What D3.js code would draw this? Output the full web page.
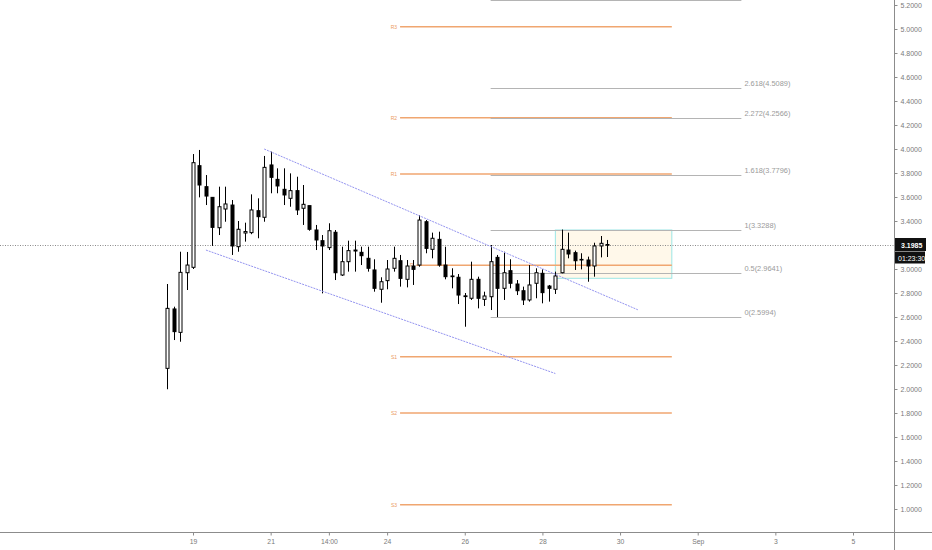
<!DOCTYPE html>
<html>
<head>
<meta charset="utf-8">
<script src="https://cdn.jsdelivr.net/npm/d3@7"></script>
<style>
  html, body { margin: 0; padding: 0; background: #fff; }
  svg { display: block; font-family: 'Liberation Sans', Arial, sans-serif; }
</style>
</head>
<body>
<div id="chart"></div>
<script>
// 4h bars
const opens = [
  2.172, 2.667, 2.472, 2.969, 3.014, 3.861, 3.686, 3.597, 3.344, 3.500,
  3.533, 3.186, 3.300, 3.303, 3.486, 3.431, 3.867, 3.747, 3.664, 3.589,
  3.653, 3.506, 3.528, 3.325, 3.236, 3.178, 3.306, 2.950, 3.061, 3.150,
  3.139, 3.089, 2.992, 2.831, 2.903, 3.006, 3.069, 2.914, 3.025, 3.033,
  3.394, 3.164, 3.247, 3.033, 2.936, 2.931, 2.776, 2.756, 2.914, 2.747,
  2.769, 3.097, 2.839, 2.986, 2.875, 2.819, 2.742, 2.881, 2.964, 2.858,
  2.831, 2.969, 3.158, 3.136, 3.075, 3.075, 3.025, 3.192, 3.204,
];
const highs = [
  2.875, 2.686, 3.144, 3.142, 3.958, 3.992, 3.783, 3.600, 3.686, 3.686,
  3.575, 3.400, 3.386, 3.622, 3.589, 3.942, 3.978, 3.839, 3.839, 3.797,
  3.769, 3.700, 3.528, 3.367, 3.283, 3.381, 3.325, 3.186, 3.236, 3.236,
  3.186, 3.186, 3.081, 2.931, 3.075, 3.186, 3.117, 3.075, 3.075, 3.450,
  3.408, 3.303, 3.311, 3.186, 3.006, 2.958, 2.800, 3.061, 2.936, 2.811,
  3.200, 3.117, 3.144, 3.081, 2.908, 2.853, 3.033, 3.006, 2.997, 2.867,
  2.978, 3.3288, 3.303, 3.153, 3.131, 3.103, 3.219, 3.275, 3.242,
];
const lows = [
  1.998, 2.408, 2.394, 2.825, 3.000, 3.597, 3.533, 3.192, 3.283, 3.394,
  3.117, 3.144, 3.228, 3.290, 3.256, 3.394, 3.631, 3.631, 3.533, 3.519,
  3.450, 3.367, 3.319, 3.158, 2.797, 3.158, 2.908, 2.942, 2.978, 2.978,
  3.033, 2.978, 2.811, 2.719, 2.831, 2.978, 2.853, 2.847, 2.867, 3.019,
  3.131, 3.089, 3.019, 2.914, 2.839, 2.708, 2.519, 2.742, 2.672, 2.692,
  2.658, 2.5994, 2.742, 2.839, 2.783, 2.700, 2.728, 2.756, 2.714, 2.728,
  2.792, 2.964, 3.089, 2.992, 2.997, 2.894, 2.936, 3.097, 3.100,
];
const closes = [
  2.672, 2.478, 2.972, 3.033, 3.886, 3.700, 3.608, 3.347, 3.519, 3.542,
  3.192, 3.331, 3.312, 3.492, 3.436, 3.847, 3.764, 3.692, 3.617, 3.653,
  3.492, 3.539, 3.331, 3.242, 3.192, 3.319, 2.969, 3.061, 3.153, 3.158,
  3.111, 3.006, 2.839, 2.894, 3.000, 3.089, 2.922, 3.025, 2.997, 3.408,
  3.172, 3.256, 3.033, 2.936, 2.942, 2.783, 2.770, 2.914, 2.756, 2.775,
  3.061, 2.839, 2.969, 2.881, 2.819, 2.742, 2.867, 2.969, 2.803, 2.839,
  2.942, 3.164, 3.125, 3.069, 3.080, 3.025, 3.192, 3.214, 3.1985,
];
const firstBar = Date.UTC(2020, 7, 18, 10);
const barMs = 4 * 3600 * 1000;

const xTickDates = [
  Date.UTC(2020, 7, 19, 2), Date.UTC(2020, 7, 21, 2), Date.UTC(2020, 7, 22, 14),
  Date.UTC(2020, 7, 24, 2), Date.UTC(2020, 7, 26, 2), Date.UTC(2020, 7, 28, 2),
  Date.UTC(2020, 7, 30, 2), Date.UTC(2020, 8, 1, 2), Date.UTC(2020, 8, 3, 2),
  Date.UTC(2020, 8, 5, 2),
];
const xTickLabels = ['19', '21', '14:00', '24', '26', '28', '30', 'Sep', '3', '5'];
const yTicks = [1.0, 1.2, 1.4, 1.6, 1.8, 2.0, 2.2, 2.4, 2.6, 2.8, 3.0, 3.2, 3.4, 3.6, 3.8, 4.0, 4.2, 4.4, 4.6, 4.8, 5.0, 5.2];

const lastPrice = 3.1985;
const countdown = '01:23:30';

// Fibonacci pivot levels
const pivotNames = ['R3', 'R2', 'R1', 'P', 'S1', 'S2', 'S3'];
const pivotValues = [5.019, 4.261, 3.792, 3.031, 2.269, 1.8, 1.036];
const pivotStarts = [
  Date.UTC(2020, 7, 24, 10), Date.UTC(2020, 7, 24, 10), Date.UTC(2020, 7, 24, 10),
  Date.UTC(2020, 7, 24, 20), Date.UTC(2020, 7, 24, 10), Date.UTC(2020, 7, 24, 10),
  Date.UTC(2020, 7, 24, 10),
];
const pivotEnd = Date.UTC(2020, 7, 31, 10);

// fib extension drawn from the 2.5994 low to the 3.3288 high
const fibRatios = ['3.618', '2.618', '2.272', '1.618', '1', '0.5', '0'];
const fibPrices = [5.2384, 4.5089, 4.2566, 3.7796, 3.3288, 2.9641, 2.5994];
const fibSpan = [Date.UTC(2020, 7, 26, 18), Date.UTC(2020, 8, 2, 5)];

const channelUpper = [[Date.UTC(2020, 7, 20, 22), 4.0], [Date.UTC(2020, 7, 30, 13), 2.66]];
const channelLower = [[Date.UTC(2020, 7, 19, 10), 3.158], [Date.UTC(2020, 7, 28, 10), 2.129]];

const boxTimes = [Date.UTC(2020, 7, 28, 10), Date.UTC(2020, 7, 31, 10)];
const boxPrices = [3.325, 2.9225];

const W = 932;
const H = 550;
const axisX = 894;
const axisY = 532;
const textGray = '#7a7a7a';
const lineGray = '#8c8c8c';

const x = d3.scaleUtc().domain([xTickDates[0], xTickDates[xTickDates.length - 1]]).range([193, 853]);
const y = d3.scaleLinear().domain([1, 5]).range([509, 29]);

const bars = opens.map((o, i) => ({
  t: firstBar + i * barMs,
  o,
  h: highs[i],
  l: lows[i],
  c: closes[i],
}));

const svg = d3.select('#chart').append('svg').attr('width', W).attr('height', H).style('background', '#ffffff');
svg.append('clipPath').attr('id', 'plot').append('rect').attr('width', axisX).attr('height', axisY);
const g = svg.append('g').attr('clip-path', 'url(#plot)');

// box behind the bars
g.append('rect')
  .attr('x', x(boxTimes[0]))
  .attr('y', y(boxPrices[0]))
  .attr('width', x(boxTimes[1]) - x(boxTimes[0]))
  .attr('height', y(boxPrices[1]) - y(boxPrices[0]))
  .attr('fill', '#fff8ea')
  .attr('stroke', '#9be6e6')
  .attr('stroke-width', 1);

// pivots
const pivots = pivotNames.map((name, i) => ({ name, v: pivotValues[i], t0: pivotStarts[i] }));
g.append('g')
  .selectAll('line')
  .data(pivots)
  .join('line')
  .attr('x1', (d) => x(d.t0))
  .attr('x2', x(pivotEnd))
  .attr('y1', (d) => y(d.v))
  .attr('y2', (d) => y(d.v))
  .attr('stroke', '#f0a670')
  .attr('stroke-width', 1.4);
g.append('g')
  .selectAll('text')
  .data(pivots)
  .join('text')
  .attr('x', (d) => x(d.t0) - 3)
  .attr('y', (d) => y(d.v) + 2)
  .attr('text-anchor', 'end')
  .attr('font-size', 5)
  .attr('fill', '#eb9a5e')
  .text((d) => d.name);

// fib levels
const fibs = fibRatios.map((r, i) => ({ r, v: fibPrices[i] }));
g.append('g')
  .selectAll('line')
  .data(fibs)
  .join('line')
  .attr('x1', x(fibSpan[0]))
  .attr('x2', x(fibSpan[1]))
  .attr('y1', (d) => Math.round(y(d.v)) + 0.5)
  .attr('y2', (d) => Math.round(y(d.v)) + 0.5)
  .attr('stroke', '#b4b4b4')
  .attr('stroke-width', 1);
g.append('g')
  .selectAll('text')
  .data(fibs)
  .join('text')
  .attr('x', x(fibSpan[1]) + 3)
  .attr('y', (d) => y(d.v) - 2)
  .attr('font-size', 7.4)
  .attr('fill', '#9a9a9a')
  .text((d) => `${d.r}(${d3.format('.4f')(d.v)})`);

// last price line
g.append('line')
  .attr('x1', 0)
  .attr('x2', axisX)
  .attr('y1', Math.round(y(lastPrice)) + 0.5)
  .attr('y2', Math.round(y(lastPrice)) + 0.5)
  .attr('stroke', '#8a8a8a')
  .attr('stroke-dasharray', '1 1.5');

// candles
const step = x(firstBar + barMs) - x(firstBar);
const bodyW = Math.max(3, Math.round(step * 0.62) - 1);
const candle = g
  .append('g')
  .selectAll('g')
  .data(bars)
  .join('g')
  .attr('transform', (d) => `translate(${Math.round(x(d.t))},0)`);
candle
  .append('line')
  .attr('x1', 0.5)
  .attr('x2', 0.5)
  .attr('y1', (d) => y(d.h))
  .attr('y2', (d) => y(d.l))
  .attr('stroke', '#000')
  .attr('stroke-width', 1);
candle
  .append('rect')
  .attr('x', 0.5 - bodyW / 2)
  .attr('y', (d) => y(Math.max(d.o, d.c)))
  .attr('width', bodyW)
  .attr('height', (d) => Math.max(0.5, Math.abs(y(d.o) - y(d.c))))
  .attr('fill', (d) => (d.c >= d.o ? '#ffffff' : '#000000'))
  .attr('stroke', '#000')
  .attr('stroke-width', 1);

// channel
g.append('g')
  .selectAll('line')
  .data([channelUpper, channelLower])
  .join('line')
  .attr('x1', (d) => x(d[0][0]))
  .attr('y1', (d) => y(d[0][1]))
  .attr('x2', (d) => x(d[1][0]))
  .attr('y2', (d) => y(d[1][1]))
  .attr('stroke', '#9494f0')
  .attr('stroke-width', 1)
  .attr('stroke-dasharray', '2 1');

// axes
svg.append('line').attr('x1', axisX + 0.5).attr('x2', axisX + 0.5).attr('y1', 0).attr('y2', H).attr('stroke', lineGray);
svg.append('line').attr('x1', 0).attr('x2', W).attr('y1', axisY + 0.5).attr('y2', axisY + 0.5).attr('stroke', lineGray);

const labelY = y(lastPrice);
const yAxis = svg
  .append('g')
  .attr('transform', `translate(${axisX + 0.5},0)`)
  .call(
    d3.axisRight(y)
      .tickValues(yTicks.filter((v) => Math.abs(y(v) - labelY) > 12))
      .tickFormat(d3.format('.4f'))
      .tickSize(3)
      .tickPadding(3),
  );
yAxis.select('.domain').remove();
yAxis.selectAll('line').attr('stroke', lineGray);
yAxis.selectAll('text').attr('font-size', 7).attr('font-family', null).attr('fill', textGray);

const xAxis = svg
  .append('g')
  .attr('transform', `translate(0,${axisY + 0.5})`)
  .call(
    d3.axisBottom(x)
      .tickValues(xTickDates)
      .tickFormat((d, i) => xTickLabels[i])
      .tickSize(3)
      .tickPadding(4),
  );
xAxis.select('.domain').remove();
xAxis.selectAll('line').attr('stroke', lineGray);
xAxis.selectAll('text').attr('font-size', 6.8).attr('font-family', null).attr('fill', textGray);

// last price tag + countdown
const tag = svg.append('g').attr('transform', `translate(${axisX + 1},${Math.round(labelY) - 7})`);
tag.append('rect').attr('width', 31).attr('height', 13).attr('fill', '#111');
tag.append('text').attr('x', 6).attr('y', 9.5).attr('font-size', 7).attr('font-weight', 700).attr('fill', '#fff').text(d3.format('.4f')(lastPrice));
tag.append('rect').attr('y', 13.5).attr('width', 30).attr('height', 12).attr('fill', '#111');
tag.append('text').attr('x', 3).attr('y', 22.5).attr('font-size', 7).attr('fill', '#fff').text(countdown);
</script>
</body>
</html>
